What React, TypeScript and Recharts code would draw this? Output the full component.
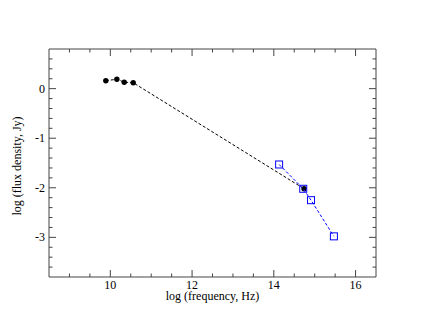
import React from 'react';
import { ScatterChart, Scatter, XAxis, YAxis } from 'recharts';

// radio points (black) and optical points (blue)
const radioFreq = [9.89, 10.16, 10.34, 10.56, 14.74];
const radioFlux = [0.16, 0.19, 0.13, 0.12, -2.02];
const opticalFreq = [14.13, 14.72, 14.91, 15.47];
const opticalFlux = [-1.53, -2.02, -2.25, -2.98];

const xTicks = [9, 9.5, 10, 10.5, 11, 11.5, 12, 12.5, 13, 13.5, 14, 14.5, 15, 15.5, 16];
const xLabels = [10, 12, 14, 16];
const yTicks = [-3.6, -3.4, -3.2, -3, -2.8, -2.6, -2.4, -2.2, -2, -1.8, -1.6, -1.4, -1.2, -1, -0.8, -0.6, -0.4, -0.2, 0, 0.2, 0.4, 0.6];
const yLabels = [0, -1, -2, -3];

const radioData = radioFreq.map((x, i) => ({ x, y: radioFlux[i] }));
const opticalData = opticalFreq.map((x, i) => ({ x, y: opticalFlux[i] }));

const FRAME = '#444';
const FONT = "'Liberation Serif', 'Times New Roman', serif";

const isLabel = (v: number, labels: number[]) => labels.some(l => Math.abs(l - v) < 1e-6);

const XTick = (props: any) => {
  const { x, y, payload, side } = props;
  const v = payload.value;
  const major = isLabel(v, xLabels);
  const len = major ? 7 : 3.5;
  const dir = side === 'top' ? 1 : -1;
  return (
    <g>
      <line x1={x} x2={x} y1={y} y2={y + dir * len} stroke={FRAME} />
      {major && side === 'bottom' && (
        <text x={x} y={y + 12} textAnchor="middle" fontSize={12} fontFamily={FONT} fill="#000">{v}</text>
      )}
    </g>
  );
};

const YTick = (props: any) => {
  const { x, y, payload, side } = props;
  const v = payload.value;
  const major = isLabel(v, yLabels);
  const len = major ? 7 : 3.5;
  const dir = side === 'right' ? -1 : 1;
  return (
    <g>
      <line x1={x} x2={x + dir * len} y1={y} y2={y} stroke={FRAME} />
      {major && side === 'left' && (
        <text x={x - 4} y={y + 4} textAnchor="end" fontSize={12} fontFamily={FONT} fill="#000">{Math.round(v)}</text>
      )}
    </g>
  );
};

const XTitle = (props: any) => {
  const vb = props.viewBox;
  return (
    <text x={vb.x + vb.width / 2} y={vb.y + 23} textAnchor="middle" fontSize={12} fontFamily={FONT} fill="#000">
      log (frequency, Hz)
    </text>
  );
};

const YTitle = (props: any) => {
  const vb = props.viewBox;
  const cx = 13;
  const cy = vb.y + vb.height / 2 + 3;
  return (
    <text x={cx} y={cy} transform={`rotate(-90 ${cx} ${cy})`} textAnchor="middle" fontSize={12} fontFamily={FONT} fill="#000">
      log (flux density, Jy)
    </text>
  );
};

const Dot = (props: any) => <circle cx={props.cx} cy={props.cy} r={2.7} fill="#000" />;
const Square = (props: any) => (
  <rect x={props.cx - 3.5} y={props.cy - 3.5} width={7} height={7} fill="none" stroke="#0000ff" strokeWidth={1} />
);
const Nothing = () => <g />;

export default function App() {
  return (
    <div style={{ width: 410, height: 310, background: '#fff' }}>
      <ScatterChart width={410} height={310} margin={{ top: 40, right: 41, bottom: 0, left: 0 }}>
        <XAxis
          type="number" dataKey="x" domain={[8.5, 16.5]} ticks={xTicks} interval={0}
          height={41} tickSize={0} tickMargin={0} tickLine={false}
          axisLine={{ stroke: FRAME }} allowDataOverflow
          tick={(p: any) => <XTick {...p} side="bottom" />}
          label={<XTitle />}
        />
        <XAxis
          xAxisId="top" orientation="top" type="number" dataKey="x" domain={[8.5, 16.5]} ticks={xTicks} interval={0}
          height={1} tickSize={0} tickMargin={0} tickLine={false}
          axisLine={{ stroke: FRAME }} allowDataOverflow
          tick={(p: any) => <XTick {...p} side="top" />}
        />
        <YAxis
          type="number" dataKey="y" domain={[-3.8, 0.8]} ticks={yTicks} interval={0}
          width={41} tickSize={0} tickMargin={0} tickLine={false}
          axisLine={{ stroke: FRAME }} allowDataOverflow
          tick={(p: any) => <YTick {...p} side="left" />}
          label={<YTitle />}
        />
        <YAxis
          yAxisId="right" orientation="right" type="number" dataKey="y" domain={[-3.8, 0.8]} ticks={yTicks} interval={0}
          width={1} tickSize={0} tickMargin={0} tickLine={false}
          axisLine={{ stroke: FRAME }} allowDataOverflow
          tick={(p: any) => <YTick {...p} side="right" />}
        />
        {/* invisible series so the top and right frame axes get drawn */}
        <Scatter data={radioData} xAxisId="top" yAxisId="right" isAnimationActive={false} shape={Nothing} />
        <Scatter
          data={radioData} isAnimationActive={false}
          line={{ stroke: '#000', strokeDasharray: '3 2', strokeWidth: 1 }}
          shape={Dot}
        />
        <Scatter
          data={opticalData} isAnimationActive={false}
          line={{ stroke: '#0000ff', strokeDasharray: '3 2', strokeWidth: 1 }}
          shape={Square}
        />
      </ScatterChart>
    </div>
  );
}
